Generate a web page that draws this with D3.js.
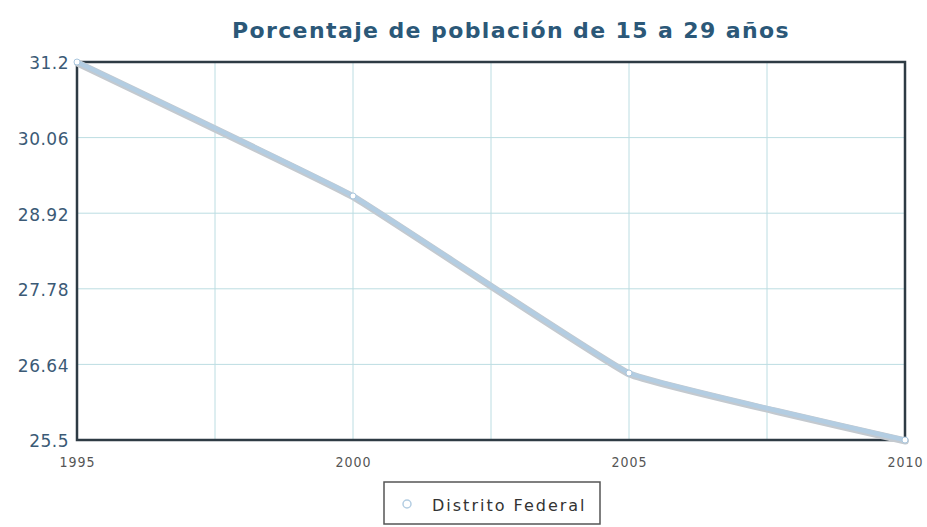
<!DOCTYPE html>
<html>
<head>
<meta charset="utf-8">
<script src="https://cdn.jsdelivr.net/npm/d3@7"></script>
<style>
  body { margin: 0; background: #fff; }
</style>
</head>
<body>
<svg id="chart" width="927" height="527"></svg>
<script>
// data
const years = [1995, 2000, 2005, 2010];
const values = [31.2, 29.18, 26.51, 25.5];
const yTicks = [25.5, 26.64, 27.78, 28.92, 30.06, 31.2];
const xTicks = [1995, 2000, 2005, 2010];
const xGrid = [1995, 1997.5, 2000, 2002.5, 2005, 2007.5, 2010];
const seriesName = 'Distrito Federal';
const title = 'Porcentaje de población de 15 a 29 años';

const svg = d3.select('#chart');
const m = {left: 77, right: 22, top: 62, bottom: 87};
const W = 927, H = 527;

const x = d3.scaleLinear().domain([1995, 2010]).range([m.left, W - m.right]);
const y = d3.scaleLinear().domain([25.5, 31.2]).range([H - m.bottom, m.top]);

// title
svg.append('text')
  .attr('x', 511).attr('y', 38)
  .attr('text-anchor', 'middle')
  .attr('font-family', 'DejaVu Sans')
  .attr('font-weight', 'bold')
  .attr('font-size', 22)
  .attr('letter-spacing', 1.4)
  .attr('fill', '#2b5878')
  .text(title);

// grid
svg.append('g').selectAll('line').data(xGrid).enter().append('line')
  .attr('x1', d => x(d)).attr('x2', d => x(d))
  .attr('y1', y(31.2)).attr('y2', y(25.5))
  .attr('stroke', '#bcdde2').attr('stroke-width', 1);
svg.append('g').selectAll('line').data(yTicks).enter().append('line')
  .attr('x1', x(1995)).attr('x2', x(2010))
  .attr('y1', d => y(d)).attr('y2', d => y(d))
  .attr('stroke', '#bcdde2').attr('stroke-width', 1);

// y axis labels
const yAxis = d3.axisLeft(y).tickValues(yTicks).tickSize(0).tickFormat(d => String(d));
const gy = svg.append('g').attr('transform', `translate(${m.left},0)`).call(yAxis);
gy.select('.domain').remove();
gy.selectAll('text')
  .attr('font-family', 'DejaVu Sans')
  .attr('font-size', 17)
  .attr('letter-spacing', 0.5)
  .attr('fill', '#3b5a76')
  .attr('x', -8)
  .attr('dy', '0.4em');

// x axis labels
const xAxis = d3.axisBottom(x).tickValues(xTicks).tickSize(0).tickFormat(d3.format('d'));
const gx = svg.append('g').attr('transform', `translate(0,${H - m.bottom})`).call(xAxis);
gx.select('.domain').remove();
gx.selectAll('text')
  .attr('font-family', 'DejaVu Sans Condensed, DejaVu Sans')
  .attr('font-size', 14)
  .attr('letter-spacing', 1)
  .attr('fill', '#555')
  .attr('y', 0)
  .attr('dy', 27);

// frame
svg.append('rect')
  .attr('x', x(1995)).attr('y', y(31.2))
  .attr('width', x(2010) - x(1995)).attr('height', y(25.5) - y(31.2))
  .attr('fill', 'none').attr('stroke', '#2e3b44').attr('stroke-width', 2.5);

// line
const pts = years.map((d, i) => [d, values[i]]);
const line = d3.line().x(d => x(d[0])).y(d => y(d[1])).curve(d3.curveCardinal.tension(0.75));
svg.append('path').datum(pts)
  .attr('d', line)
  .attr('fill', 'none')
  .attr('stroke', '#c3c9cf')
  .attr('stroke-width', 7)
  .attr('stroke-linecap', 'round')
  .attr('transform', 'translate(0.5,1)');
svg.append('path').datum(pts)
  .attr('d', line)
  .attr('fill', 'none')
  .attr('stroke', '#b3cde2')
  .attr('stroke-width', 4.5)
  .attr('stroke-linecap', 'round');

svg.append('g').selectAll('circle').data(pts).enter().append('circle')
  .attr('cx', d => x(d[0])).attr('cy', d => y(d[1]))
  .attr('r', 3)
  .attr('fill', '#fff')
  .attr('stroke', '#a9c6de')
  .attr('stroke-width', 1);

// legend
const lg = svg.append('g').attr('transform', 'translate(384,482)');
lg.append('rect')
  .attr('width', 216).attr('height', 42)
  .attr('fill', '#fff').attr('stroke', '#555').attr('stroke-width', 1.5);
lg.append('circle')
  .attr('cx', 23).attr('cy', 22).attr('r', 4)
  .attr('fill', '#fff').attr('stroke', '#b3cde2').attr('stroke-width', 1.5);
lg.append('text')
  .attr('x', 48).attr('y', 29)
  .attr('font-family', 'DejaVu Sans')
  .attr('font-size', 16)
  .attr('letter-spacing', 2)
  .attr('fill', '#333')
  .text(seriesName);
</script>
</body>
</html>
